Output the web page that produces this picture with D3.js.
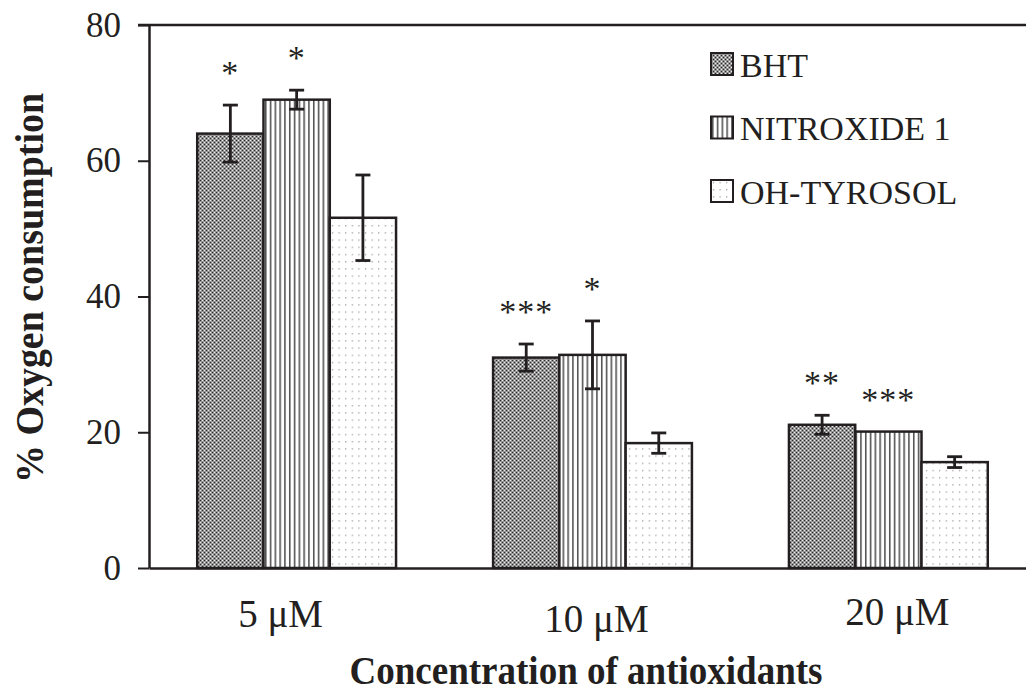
<!DOCTYPE html>
<html>
<head>
<meta charset="utf-8">
<script src="https://cdn.jsdelivr.net/npm/d3@7"></script>
<style>
  body { margin: 0; background: #fff; }
  svg { display: block; }
  text { font-family: "Liberation Serif", "Times New Roman", serif; fill: #231f20; }
</style>
</head>
<body>
<svg id="chart" width="1026" height="694"></svg>
<script>
const categories = ["5 \u03bcM", "10 \u03bcM", "20 \u03bcM"];
const seriesNames = ["BHT", "NITROXIDE 1", "OH-TYROSOL"];
const bhtValues = [64.0, 31.0, 21.1];
const nitroxideValues = [69.0, 31.4, 20.1];
const tyrosolValues = [51.6, 18.4, 15.6];
const bhtErrors = [4.2, 2.0, 1.4];
const nitroxideErrors = [1.4, 5.0, 0];
const tyrosolErrors = [6.3, 1.5, 0.8];
const bhtStars = ["*", "***", "**"];
const nitroxideStars = ["*", "*", "***"];
const tyrosolStars = ["", "", ""];
const yTicks = [0, 20, 40, 60, 80];

const width = 1026, height = 694;
const margin = { top: 25, left: 149, bottom: 126 };
const svg = d3.select("#chart");
const ink = "#231f20";

// fill patterns
const defs = svg.append("defs");
const pBht = defs.append("pattern").attr("id", "p-bht").attr("patternUnits", "userSpaceOnUse")
  .attr("width", 4).attr("height", 4);
pBht.append("rect").attr("width", 4).attr("height", 4).attr("fill", "#949494");
pBht.append("rect").attr("x", 0).attr("y", 0).attr("width", 1).attr("height", 1).attr("fill", "#2a2a2a");
pBht.append("rect").attr("x", 2).attr("y", 2).attr("width", 1).attr("height", 1).attr("fill", "#2a2a2a");
pBht.append("rect").attr("x", 2).attr("y", 0).attr("width", 1).attr("height", 1).attr("fill", "#eee");
pBht.append("rect").attr("x", 0).attr("y", 2).attr("width", 1).attr("height", 1).attr("fill", "#eee");

const pNit = defs.append("pattern").attr("id", "p-nit").attr("patternUnits", "userSpaceOnUse")
  .attr("width", 4.8).attr("height", 10);
pNit.append("rect").attr("width", 4.8).attr("height", 10).attr("fill", "#fff");
pNit.append("rect").attr("x", 1).attr("width", 1.5).attr("height", 10).attr("fill", "#4a4a4a");

const pOh = defs.append("pattern").attr("id", "p-oh").attr("patternUnits", "userSpaceOnUse")
  .attr("width", 6.6).attr("height", 7.2);
pOh.append("rect").attr("width", 6.6).attr("height", 7.2).attr("fill", "#fff");
pOh.append("rect").attr("x", 2).attr("y", 2).attr("width", 1.1).attr("height", 1.1).attr("fill", "#7a7a7a");

const fills = ["url(#p-bht)", "url(#p-nit)", "url(#p-oh)"];

const y = d3.scaleLinear().domain([0, 80]).range([height - margin.bottom, margin.top]);
const x0 = d3.scaleBand().domain(categories).range([margin.left, 1036])
  .paddingInner(0.328).paddingOuter(0.163);
const x1 = d3.scaleBand().domain(seriesNames).range([0, x0.bandwidth()]);

const values = [bhtValues, nitroxideValues, tyrosolValues];
const errors = [bhtErrors, nitroxideErrors, tyrosolErrors];
const stars = [bhtStars, nitroxideStars, tyrosolStars];

const rows = [];
categories.forEach((c, ci) => {
  seriesNames.forEach((s, si) => {
    rows.push({ cat: c, series: s, si, value: values[si][ci], err: errors[si][ci], star: stars[si][ci] });
  });
});

// top frame line
svg.append("line").attr("x1", margin.left - 11).attr("x2", width)
  .attr("y1", y(80)).attr("y2", y(80)).attr("stroke", ink).attr("stroke-width", 2.5);

// bars
const bars = svg.append("g").attr("class", "bars");
bars.selectAll("rect").data(rows).join("rect")
  .attr("x", d => x0(d.cat) + x1(d.series))
  .attr("y", d => y(d.value))
  .attr("width", x1.bandwidth())
  .attr("height", d => y(0) - y(d.value))
  .attr("fill", d => fills[d.si])
  .attr("stroke", ink)
  .attr("stroke-width", 2.5);

// error bars
const eb = svg.append("g").attr("class", "errors").attr("stroke", ink).attr("stroke-width", 2.8);
rows.filter(d => d.err > 0).forEach(d => {
  const cx = x0(d.cat) + x1(d.series) + x1.bandwidth() / 2;
  eb.append("line").attr("x1", cx).attr("x2", cx).attr("y1", y(d.value - d.err)).attr("y2", y(d.value + d.err));
  [d.value - d.err, d.value + d.err].forEach(v => {
    eb.append("line").attr("x1", cx - 7.5).attr("x2", cx + 7.5).attr("y1", y(v)).attr("y2", y(v));
  });
});

// significance stars
svg.append("g").selectAll("text").data(rows.filter(d => d.star)).join("text")
  .attr("x", d => x0(d.cat) + x1(d.series) + x1.bandwidth() / 2)
  .attr("y", d => y(d.value + d.err) - 21)
  .attr("text-anchor", "middle")
  .attr("font-size", 34)
  .attr("letter-spacing", 1)
  .text(d => d.star);

// axes
const yAxis = svg.append("g").attr("transform", `translate(${margin.left},0)`)
  .call(d3.axisLeft(y).tickValues(yTicks).tickSize(11).tickPadding(17).tickSizeOuter(0));
yAxis.select(".domain").attr("stroke", ink).attr("stroke-width", 2.5);
yAxis.selectAll(".tick line").attr("stroke", ink).attr("stroke-width", 2);
yAxis.selectAll(".tick text").attr("font-size", 35).attr("font-family", "Liberation Serif").attr("fill", ink);

const xAxis = svg.append("g").attr("transform", `translate(0,${y(0)})`)
  .call(d3.axisBottom(x0).tickSize(0).tickPadding(31).tickSizeOuter(0));
xAxis.select(".domain").attr("stroke", ink).attr("stroke-width", 2.5);
// labels in the original sit slightly off their group centres
xAxis.selectAll(".tick text")
  .attr("font-size", 39).attr("font-family", "Liberation Serif").attr("fill", ink)
  .attr("dx", (d, i) => [-16, 4, 9][i])
  .attr("y", (d, i) => [31, 36, 29][i]);

// axis titles
svg.append("text")
  .attr("transform", `translate(43,288) rotate(-90)`)
  .attr("text-anchor", "middle")
  .attr("font-size", 41).attr("font-weight", "bold")
  .attr("textLength", 390).attr("lengthAdjust", "spacingAndGlyphs")
  .text("% Oxygen consumption");

svg.append("text")
  .attr("x", 586).attr("y", 684)
  .attr("text-anchor", "middle")
  .attr("font-size", 40).attr("font-weight", "bold")
  .attr("textLength", 473).attr("lengthAdjust", "spacingAndGlyphs")
  .text("Concentration of antioxidants");

// legend
const legend = svg.append("g").attr("transform", "translate(711,53)");
seriesNames.forEach((s, i) => {
  const g = legend.append("g").attr("transform", `translate(0,${i * 63.5})`);
  g.append("rect").attr("width", 22).attr("height", 22).attr("fill", fills[i])
    .attr("stroke", ink).attr("stroke-width", 2);
  g.append("text").attr("x", 29).attr("y", 23.5).attr("font-size", 34).text(s);
});
</script>
</body>
</html>
